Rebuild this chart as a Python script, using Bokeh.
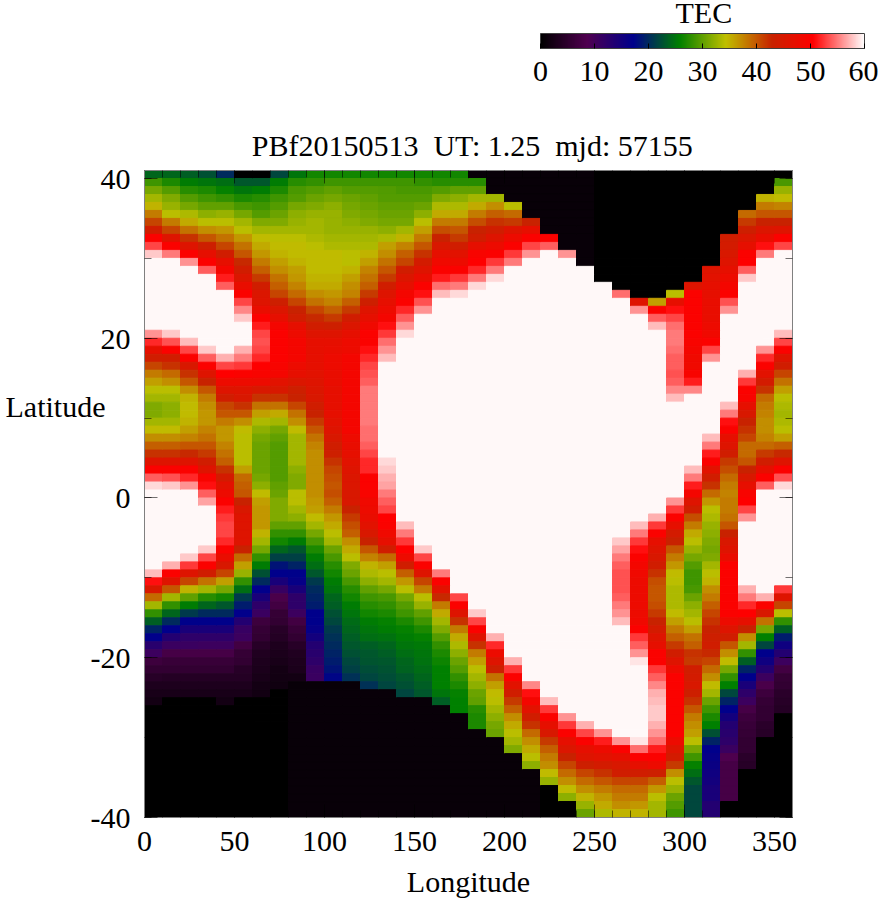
from bokeh.plotting import figure
from bokeh.models import (ColumnDataSource, LinearColorMapper, ColorBar, FixedTicker, LinearAxis,
                          Range1d)
from bokeh.embed import file_html
from bokeh.resources import INLINE
import numpy as np

W = 59.7  # saturated (white) cells
title_text = "\u00a0PBf20150513\u00a0\u00a0UT: 1.25\u00a0\u00a0mjd: 57155"
x_tick_labels = [0, 50, 100, 150, 200, 250, 300, 350]
y_tick_labels = [-40, -20, 0, 20, 40]
cbar_ticks = [0, 10, 20, 30, 40, 50, 60]

# TEC per longitude column (lon..lon+10), from latitude 41 downwards in 1 degree rows
lon_000 = [24,28.5,31,33,35,38,41,44,50,53,58]+[W]*9+[56,52,47,44,41,38,36,34,33,31.5,31.5,33,34.5,37,39.5,42,46,50,54,58.5]+[W]*10+[57.5,51,45,39,33,28,23.5,19.5,17,12.8,10.7,6.6,5.4,4.3,3.2,2.6,2.2]+[0]*14
lon_010 = [24,27,29.5,31.5,32.5,34,38,41,46,50,55]+[W]*9+[58,53.5,50,44,42,39,37,34,33,32,32,33,34.5,37,39.5,42,46,50,53.5,58]+[W]*9+[57,50,46,40,33,28,24,20,17,13.4,11,7.5,6.2,5.4,3.9,3.2,2.6]+[0]*15
lon_020 = [23.5,25.5,27.5,29.5,31,33.5,35.5,38.5,42,46,50,56]+[W]*9+[57.5,53,50,45,42,40,37,35,34.5,34.5,35,36,37.5,40,42.5,46,50,52,56]+[W]*8+[58,52.5,46,41,35,30,25.5,21,17.3,14.5,12.3,11,7.5,6.2,5.4,3.9,3.2,2.6]+[0]*15
lon_030 = [22.5,25,27,28.5,30,32,34,37,40,43.5,47,50,54]+[W]*9+[58,54,50,46,43,40,38,37,36.5,36.5,37.5,38.5,40,41.5,44,46,49.5,51,54,56.5]+[W]*5+[58,53,50,44,38.5,33,27.5,24,20,17.3,14.5,12.3,10.7,7.5,6.2,5.4,3.9,3.2,2.6]+[0]*15
lon_040 = [20,24.5,26,28,30,32.5,34,36.5,38.5,41,44,47,49,51.5,54]+[W]*8+[57,53,50.5,48,46,44,41,40,38,36.5,36.5,37.5,38.5,39.5,42,44.5,46.5,48]+[50,51.5,52.5,53,53,52,50,47.5,45,41,36,31,26.5,23,20,17.3,14.5,12.3,10.7,7.5,6.2,5.4,3.9,3.2,2.6,2.2]+[0]*14
lon_050 = [0,23,25,27,29,31,33,34,36.5,38.5,40,42.5,44,45.5,47.5,50,53,55.5,58]+[W]*3+[57,55,52.5,50,48,46,45,42,40,37,34.5,34,34,34,34,36,39,39.5,40]+[43,45,46,46,46,46,43,39,36,32.5,28,24.5,21,19,17,13.4,11.2,10.7,7.2,5.8,5.4,4.3,3.9,3.2,2.6]+[0]*15
lon_060 = [0,23,25.5,27.5,28.5,29.5,31.5,33,34.5,35.5,36.5,38,39.5,41.5,44,45.5,46,47.5,50,51.5,53,53.5,53,52,50.5,49.5,48,45,42,38.5,36,33.5,32,31,30.5,30.5,30.5,30.5,31,32,34.5]+[36,36.5,36.5,36.5,35,33,31,28,25.5,22.5,20,17,14.5,12.3,11,6.6,5.8,5.4,4.3,3.6,3.2,3,2.6,2.2,2]+[0]*15
lon_070 = [22,25.5,27,28.5,29.5,30.5,31.5,33,34,34.5,35,36,37,38.5,39.5,41,43.5,45.5,47,49,50,50,50,50,49.5,49,46.5,45,42,38.5,35.5,33,31,30,29.5,29.5,29.5,29.5,29.5,30,30.5]+[31.5,31.5,31.5,30,28,26.5,24,21.5,18.5,17.14,14.5,11.2,8,7.2,5.8,5.4,4.3,3.9,3.2,3,2.6,2.2,2,1.8]+[0]*16
lon_080 = [25,27.5,29,29.5,31,32,32.5,33,34,34.5,34.5,35,36,36.5,37.5,39,41,43,44,47,48,49,49,49,48,47,45.5,43.5,43,41,38.5,37,34.5,33,33,33,33,32,31.5,31.5]+[34,34,33,32,30,28,25.5,23,21.5,19.5,17.3,16.5,14.5,12.3,12.3,10.7,7.2,6.2,5.4,4.3,3.6,3.2,3,2.2]+[1]*17
lon_090 = [26.5,28,29.5,30.5,31.5,32.5,33,33,33.5,34,34.5,34.5,34.5,35,35.5,37,38.5,41,42.5,44,46,47,47,47,47,46.5,46,45.5,45,44,43,41.5,40,38.5,37.5,37,37,37,37,37]+[37,36.5,36,34.5,33,31,29,27,25.5,24.5,23,21,20,19.5,19,17.14,17.14,16.5,15,13.4,12.8,12.3,11.2,11]+[1]*17
lon_100 = [26.5,28.5,30,31,32,32.5,32.5,32.5,33,33.5,34.5,34.5,34.5,35,35.5,36.5,37.5,39.5,41.5,43.5,46,47,47.5,48,48,47.5,47.5,47,47,47,47,46.5,46,45,44,43.5,42,41,40.5,40]+[40.5,39.5,38,36.5,35.5,34,33,30.5,29,27.5,26.5,25.5,25,24,23.5,22.5,22,21,20.5,20,19.5,19,18.5,17.5]+[1]*17
lon_110 = [26.5,28.5,29.5,30.5,31,31.5,32,32.5,33,33.5,34,34,35,36,37,37.5,39.5,41.5,44,45.5,47,48,48,49,49,49,49,49,49,49,49,49,49,48,47.5,47,46.5,46,45.5,45.5]+[45,45,43,41.5,40.5,39.5,37,35.5,34,31.5,30.5,29,27.5,26.5,25.5,25,24.3,24,23.5,23,22.5,22,21.5,20.5]+[1]*17
lon_120 = [26.5,28.5,29.5,30,30.5,31,31.5,32.5,33,33.5,35,36,37.5,38.5,39.5,41.5,43.5,46,47,48.5,50,50,51,52,53,53.5,54,55,55,55,55,55,54.5,54.5,54,53,52,52,50,50]+[49.5,48.5,48,47.5,46.5,45,43,40,37.5,35,33.5,32,30,28.5,27.5,26.5,25.5,25,24.5,23.5,23,22.8,22.3,21.8,20.5]+[1]*16
lon_130 = [26.5,28.5,29.3,29.5,30,30.5,31,32,33.5,36,37,38.5,40,41.5,44,46,47,48,49]+[51,52.5,54.5,56,57.5]+[W]*12+[58.5,58,57,56.5]+[55,54,53,50.5,50,48.5,47,44,39,36,34,33,31,29,28,27,26,25.5,24.8,24,23.5,23,22.7,22.3,21.8]+[1]*16
lon_140 = [26.5,28.5,29,29.5,30,30.5,31,33,35,37.5,39.5,41,44,45.5,47,49,50,52,54,56,58.5]+[W]*23+[57.5,55,52.5,50.5,48,44,39.5,36.5,34,31,29.5,28.5,27,26,25.5,25,24.5,24,23.7,23,22.5,21.8]+[1]*15
lon_150 = [26.5,28,29,29.5,30.5,32,34,36,38,40,42,44.5,46,47.5,50,51,53.5,56]+[W]*29+[58,53,50,46,41,38,34,32.5,30,28.5,27,26,25.2,25,24.8,24.4,24,23.5,23]+[1]*15
lon_160 = [26.5,27.5,29.5,31.5,33.5,35.5,38,40.5,43,45,47,48.5,50,51.5,54.5,57.5]+[W]*34+[55,50,46.5,42.5,38,35.5,33,31.5,29.5,28,27,26.3,25.7,25.7,25.7,25,23.5]+[1]*14
lon_170 = [26.5,27.5,30,32,33.5,35.5,38,40,41.5,44,46.5,48,50,52.5,55,58.5]+[W]*37+[53,50,46,42,38,35.5,33.5,32,30.5,29.5,28,27,26,25.7,25.7]+[1]*13
lon_180 = [1,27.5,30,33,35.5,38,40.5,43,44,47,49.5,50.5,52,55,58.5]+[W]*40+[58,53,50,46,42,38,36,34,33,32,30.5,30,27.5,27,27]+[1]*11
lon_190 = [1]*3+[33,37,39.5,42,44,46,48,50,52.5,55,58.5]+[W]*44+[57,52,48,46,43.5,38.5,36,34.5,34,33,32,31,30.5]+[1]*10
lon_200 = [1]*4+[34,39,41.5,46,48,50,52.5,55]+[W]*49+[57,52.5,50,46.5,44,41.5,39.5,37,35.5,34,33,31.5]+[1]*8
lon_210 = [1]*6+[43,47,50,53,56]+[W]*53+[55.5,51,49,46.5,44,42,39,37,35.5,34,32]+[1]*6
lon_220 = [1]*8+[50,54]+[W]*56+[57.5,52.5,50,47,45,41.5,39.5,38,37,34.5,32.5]+[0]*4
lon_230 = [1]*10+[56]+[W]*57+[56,52.5,50,47,45.5,43,41,39,37,34.5,32]+[0]*2
lon_240 = [1]*12+[W]*57+[57,53,50,47,46,43.5,41,39,37,35,32.5,30.5]
lon_250 = [0]*14+[W]*56+[56,51.5,48,46.5,44.5,42,40,38,36.5,35.5,33.5]
lon_260 = [0]*15+[54.5]+[W]*30+[58,56.5,55,54,53.5,53.5,53.5,54,55,56,57.5]+[W]*14+[56,50,47,45,44,41,39,38,37,35]
lon_270 = [0]*16+[46,56]+[W]*26+[57.5,55,52.5,51,50,49,48.5,48,48,48,48,48,48.5,50,52.5,54,56,59]+[W]*9+[59,54.5,50,47,44,41,39,38,36.5,35]
lon_280 = [0]*16+[36,50,54,57.5]+[W]*23+[57,52.5,50,47,46,45,44,42,40.5,40,40,40.5,41.5,43,44.5,46,47,50,50,52.5,54,55.5,57,57.5,58,58,57,56,54.5,51.5,50,48,43.5,39.5,36.5,34,33,33]
lon_290 = [0]*15+[34,47,51,53,54.5,55,55,54.5,54,54,53.5,54,55.5,57.5]+[W]*12+[56,52.5,50,47,44.5,43,40,38,36.5,34.5,34,33.5,33.5,33.5,34.5,36,38,39.5,41.5,44,46,48,50,50,50,50,50,50,50,50,48,46,44.5,41.5,37,34,32.5,30.5,29.5,28.5]
lon_300 = [0]*14+[46,50,50,50,50,50,50,49.5,49,48.5,48.5,49.5,51.5,55.5]+[W]*9+[57.5,55,51.5]+[49,46,44,40.5,38,35.5,34,32.5,31,29.5,28.5,28.5,29,30.5,32,33,34,36,38.5,39.5,42,41.5,44,44.5,45,43.5,42,40,38,37,36,34,31,28.5,26,24.5,23,22,22,22,22]
lon_310 = [0]*12+[46,46.5,47,47,47.5,47.5,47.5,48,48.5,50,53,56]+[W]*9+[57.5,55,51.5,50,46.5,44,42]+[39,36.5,34,33.5,32.5,32,31.5,31,31.5,33,34,35,37,38,39.5,41,42,43,43.5,44,42.5,41,39,37,34.5,33,30.5,28.5,27,25.7,22.5,19.5,17.14,16.5,16,15.5,15,14.5,14.5,13.4,13.4]
lon_320 = [0]*8+[44,44.5,45,46,47,48,49,50,53.5,56]+[W]*11+[57.5,55,51,50,47,46,44,41.5,40.5,39,38,37.5]+[38,38,38.5,40,43,45,46,47.5,50,50,50,50,50,50,50,48,46,44,40,37,34.5,31,28,25.7,22,19.5,17.14,15,13.4,12.8,12.3,11,8.5,7.5,7.5,7.5,7.5,7.5]+[0]*2
lon_330 = [0]*5+[39,41.5,43.5,45.5,47,50,50.5,54,58]+[W]*11+[57,52.5,50,49.5,47,45,43,42,41,39,39,40,43,45,47,49.5,50.5,53,56]+[W]*8+[57,55,52,50.5,47,43,37,33,28,23.5,19.5,17.14,14.5,12.3,10.7,7.5,6.6,6.2,5.8,5.4,5.4,4.6,4.3]+[0]*6
lon_340 = [0]*3+[35,38,40,43,45.5,47.5,51,55]+[W]*11+[56,52,50,46.5,44.5,42,39,38,37.5,37,37,37.5,39,41.5,44,47,50,54]+[W]*13+[57,50,45,38.5,31,25.7,21.8,17.14,15.5,13.4,10.7,8,6.6,5.8,5.4,5.4,4.6,4.3]+[0]*10
lon_350 = [0]+[29,32.5,34.5,37.5,40,43,46,50,53]+[W]*10+[57.5,53,50,46,44,41,38.5,36,34,33.5,33,33.5,34,36,39.5,42.5,46,50,53.5,58.5]+[W]*12+[52.5,46,41,34,28,23.5,19,15.5,13.4,10.7,7.2,5.8,5.4,4.6,4.3,3.9]+[0]*13

columns = [lon_000, lon_010, lon_020, lon_030, lon_040, lon_050, lon_060, lon_070, lon_080, lon_090,
           lon_100, lon_110, lon_120, lon_130, lon_140, lon_150, lon_160, lon_170, lon_180, lon_190,
           lon_200, lon_210, lon_220, lon_230, lon_240, lon_250, lon_260, lon_270, lon_280, lon_290,
           lon_300, lon_310, lon_320, lon_330, lon_340, lon_350]
for i, c in enumerate(columns):
    assert len(c) == 81, (i * 10, len(c))

# colour scale
stop_v = [0, 8.57, 17.14, 25.71, 34.29, 42.86, 50.5, 60]
stop_c = [(0, 0, 0), (80, 0, 80), (0, 0, 140), (0, 128, 0), (192, 192, 0), (200, 35, 0), (255, 0, 0), (255, 255, 255)]
grid = np.linspace(0, 60, 512)
rgb = [np.interp(grid, stop_v, [c[k] for c in stop_c]) for k in range(3)]
palette = ["#%02x%02x%02x" % (int(r), int(g), int(b)) for r, g, b in zip(*rgb)]
mapper = LinearColorMapper(palette=palette, low=0, high=60)

left, right, top, bottom, tec = [], [], [], [], []
for i, col in enumerate(columns):
    for r, v in enumerate(col):
        left.append(i * 10)
        right.append(i * 10 + 10)
        top.append(41 - r)
        bottom.append(40 - r)
        tec.append(v)
source = ColumnDataSource(dict(left=left, right=right, top=top, bottom=bottom, tec=tec))

FONT = "Liberation Serif"
FS = "30px"
p = figure(width=878, height=900, output_backend="svg", toolbar_location=None,
           x_range=Range1d(0, 360), y_range=Range1d(-40, 41),
           min_border_left=144, min_border_right=86, min_border_top=170, min_border_bottom=82,
           title=title_text)
p.grid.visible = False
p.outline_line_color = None
p.title.align = "center"
p.title.text_font = FONT
p.title.text_font_size = FS
p.title.text_font_style = "normal"
p.title.text_color = "black"
p.title.standoff = 17

p.quad(left="left", right="right", top="top", bottom="bottom", source=source,
       fill_color={"field": "tec", "transform": mapper},
       line_color={"field": "tec", "transform": mapper}, line_width=1)

x_ticks = FixedTicker(ticks=x_tick_labels, minor_ticks=list(range(0, 361, 10)))
y_ticks = FixedTicker(ticks=y_tick_labels, minor_ticks=list(range(-40, 41, 10)))

def style(ax, labelled):
    ax.axis_line_color = "#808080"
    ax.axis_line_width = 1
    ax.major_tick_line_color = "black"
    ax.major_tick_line_alpha = 0.55
    ax.minor_tick_line_color = "black"
    ax.minor_tick_line_alpha = 0.55
    ax.major_tick_in = 13
    ax.major_tick_out = 0
    ax.minor_tick_in = 7
    ax.minor_tick_out = 0
    if labelled:
        ax.major_label_text_font = FONT
        ax.major_label_text_font_size = FS
        ax.major_label_text_color = "black"
    else:
        ax.major_label_text_font_size = "0px"
        ax.major_label_text_color = None
        ax.major_label_standoff = 0

xa = p.xaxis[0]
xa.ticker = x_ticks
style(xa, True)
xa.major_label_standoff = 14
xa.axis_label = "Longitude"
xa.axis_label_text_font = FONT
xa.axis_label_text_font_size = FS
xa.axis_label_text_font_style = "normal"
xa.axis_label_text_color = "black"
xa.axis_label_standoff = 11

# left side: the frame axis carries ticks only; a second axis carries the labels and "Latitude"
ya = p.yaxis[0]
ya.ticker = y_ticks
style(ya, False)
label_ax = LinearAxis(ticker=FixedTicker(ticks=y_tick_labels + [11.4], minor_ticks=[]),
                      major_label_overrides={-40: "-40", -20: "-20", 11.4: "Latitude\u00a0\u00a0\u00a0\u200a"})
style(label_ax, True)
label_ax.axis_line_color = None
label_ax.major_tick_line_color = None
label_ax.minor_tick_line_color = None
label_ax.major_tick_in = 0
label_ax.minor_tick_in = 0
label_ax.major_label_standoff = 14
p.add_layout(label_ax, "left")

top_ax = LinearAxis(ticker=x_ticks)
style(top_ax, False)
p.add_layout(top_ax, "above")
right_ax = LinearAxis(ticker=y_ticks)
style(right_ax, False)
p.add_layout(right_ax, "right")

cb = ColorBar(color_mapper=mapper, ticker=FixedTicker(ticks=cbar_ticks), width=324, height=15,
              orientation="horizontal", title="\u00a0" * 18 + "TEC", title_text_font=FONT, title_text_font_size=FS,
              title_text_font_style="normal", title_text_color="black",
              title_standoff=10,
              location=(396, 734), padding=0, background_fill_alpha=0,
              bar_line_color="#404040", major_tick_line_color="black", major_tick_in=5,
              major_label_text_font=FONT, major_label_text_font_size=FS,
              major_label_text_color="black", label_standoff=13)
p.add_layout(cb, "center")

open("out.html", "w").write(file_html(p, INLINE))
